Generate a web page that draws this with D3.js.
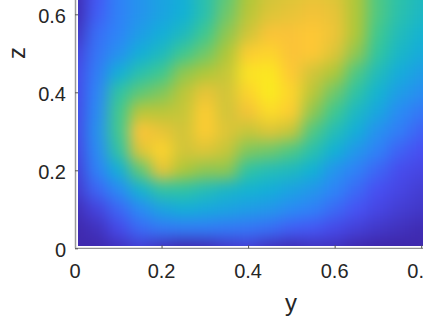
<!DOCTYPE html>
<html>
<head>
<meta charset="utf-8">
<script src="https://cdn.jsdelivr.net/npm/d3@7"></script>
<style>
html, body { margin: 0; padding: 0; background: #fff; overflow: hidden; }
text { font-family: "Liberation Sans", Arial, sans-serif; }
</style>
</head>
<body>
<div class="central"></div>
<script>
//Grid of the surface
var yValues = [0, .05, .1, .15, .2, .25, .3, .35, .4, .45, .5, .55, .6, .65, .7, .75, .8, .85];
var zValues = [.65, .6, .55, .5, .45, .4, .35, .3, .25, .2, .15, .1, .05, 0];
var surface = [
	[.02, .16, .27, .33, .38, .42, .52, .62, .72, .78, .80, .82, .80, .72, .60, .53, .48, .46],
	[.02, .18, .27, .33, .38, .43, .52, .64, .74, .80, .82, .84, .82, .72, .60, .52, .47, .45],
	[.05, .22, .28, .36, .42, .48, .58, .68, .78, .85, .85, .87, .83, .72, .58, .49, .44, .41],
	[.10, .24, .32, .42, .48, .58, .64, .72, .88, .90, .85, .87, .80, .68, .55, .46, .41, .38],
	[.12, .26, .42, .52, .58, .68, .72, .76, .94, .95, .87, .78, .72, .60, .49, .41, .36, .33],
	[.12, .28, .54, .62, .66, .74, .82, .78, .90, .96, .90, .74, .64, .54, .44, .36, .31, .28],
	[.12, .30, .58, .74, .74, .76, .88, .78, .84, .92, .88, .68, .58, .47, .39, .30, .25, .22],
	[.12, .32, .58, .86, .82, .78, .88, .80, .76, .80, .76, .60, .50, .42, .32, .26, .19, .16],
	[.11, .30, .54, .80, .90, .78, .80, .76, .66, .64, .60, .52, .43, .34, .27, .19, .14, .12],
	[.09, .27, .42, .62, .82, .72, .68, .68, .54, .50, .48, .43, .33, .27, .20, .13, .11, .09],
	[.07, .20, .30, .44, .54, .54, .50, .46, .44, .42, .38, .34, .28, .21, .14, .11, .08, .07],
	[.03, .10, .20, .30, .38, .42, .40, .38, .36, .34, .30, .27, .21, .15, .11, .08, .06, .05],
	[.01, .04, .12, .21, .25, .26, .26, .25, .24, .22, .18, .16, .12, .09, .06, .04, .02, .02],
	[.01, .01, .04, .08, .04, .01, .02, .06, .08, .04, .02, .04, .04, .01, .00, .00, .01, .01]
];
var yTicks = [0, .2, .4, .6, .8];
var zTicks = [0, .2, .4, .6];

//parula
var colorStops = ["#3e26a8", "#4850f4", "#2d87f7", "#12b1d6", "#37c897", "#abc739", "#fec338", "#f9fb15"];
var color = d3.scaleLinear()
	.domain(d3.range(colorStops.length).map(function(i){ return i / (colorStops.length - 1); }))
	.range(colorStops)
	.clamp(true);

var width = 423,
	height = 317;

var x = d3.scaleLinear().domain([0, .8]).range([75, 421.2]);
var y = d3.scaleLinear().domain([0, .6]).range([248.3, 14.3]);

var svg = d3.select(".central")
	.append("svg")
	.attr("width", width)
	.attr("height", height)
	.style("display", "block");

var defs = svg.append("defs");
defs.append("clipPath")
	.attr("id", "plotClip")
	.append("rect")
	.attr("x", 78)
	.attr("y", -2)
	.attr("width", width - 76)
	.attr("height", 248);
defs.append("filter")
	.attr("id", "soften")
	.attr("filterUnits", "userSpaceOnUse")
	.attr("x", -60).attr("y", -80)
	.attr("width", width + 140).attr("height", height + 100)
	.attr("color-interpolation-filters", "sRGB")
	.append("feGaussianBlur")
	.attr("stdDeviation", 7.5);

var cellW = x(.05) - x(0),
	cellH = y(0) - y(.05);

//one rect per grid value, the edge rects run on past the clip so the blur does not fade out
var cells = [];
surface.forEach(function(row, r){
	row.forEach(function(v, c){
		cells.push({y: yValues[c], z: zValues[r], v: v, c: c, r: r});
	});
});

svg.append("g")
	.attr("clip-path", "url(#plotClip)")
	.append("g")
	.attr("filter", "url(#soften)")
	.selectAll("rect")
	.data(cells)
	.enter()
	.append("rect")
	.attr("x", function(d){
		var left = x(d.y) - cellW / 2;
		return d.c == 0 ? left - 50 : left;
	})
	.attr("y", function(d){
		var top = y(d.z) - cellH / 2;
		return d.r == 0 ? top - 50 : top;
	})
	.attr("width", function(d){
		var w = cellW + 1;
		if(d.c == 0 || d.c == yValues.length - 1) w += 50;
		return w;
	})
	.attr("height", function(d){
		var h = cellH + 1;
		if(d.r == 0) h += 50;
		if(d.r == zValues.length - 1) h += 50;
		return h;
	})
	.style("fill", function(d){ return color(d.v); });

var tickLabel = function(d){ return d == 0 ? "0" : d3.format(".1f")(d); };

var xAxis = svg.append("g")
	.attr("transform", "translate(0," + y(0) + ")")
	.call(d3.axisBottom(x).tickValues(yTicks).tickFormat(tickLabel).tickSizeInner(-3).tickSizeOuter(0).tickPadding(16));
var yAxis = svg.append("g")
	.attr("transform", "translate(" + x(0) + ",0)")
	.call(d3.axisLeft(y).tickValues(zTicks).tickFormat(tickLabel).tickSizeInner(-3).tickSizeOuter(0).tickPadding(9));

//left spine goes up out of the window
yAxis.select(".domain").attr("d", "M0.5,-10V" + y(0));
yAxis.select(".domain").style("stroke", "#9a9a9a").style("stroke-width", 1.5);
xAxis.select(".domain").attr("d", "M" + x(0) + ",0H" + (width + 10));
xAxis.select(".domain").style("stroke", "#777");

svg.selectAll(".tick line").style("stroke", "#555");
svg.selectAll(".tick text")
	.style("font-size", "20px")
	.style("font-family", '"Liberation Sans", Arial, sans-serif')
	.style("fill", "#262626");
xAxis.selectAll(".tick text").attr("dx", "-0.5px");
yAxis.selectAll(".tick text").attr("dy", "0.4em");

svg.append("text")
	.attr("x", 291)
	.attr("y", 311)
	.attr("text-anchor", "middle")
	.style("font-size", "24px")
	.style("fill", "#262626")
	.text("y");
svg.append("text")
	.attr("transform", "translate(25,53) rotate(-90)")
	.attr("text-anchor", "middle")
	.style("font-size", "24px")
	.style("fill", "#262626")
	.text("z");
</script>
</body>
</html>
